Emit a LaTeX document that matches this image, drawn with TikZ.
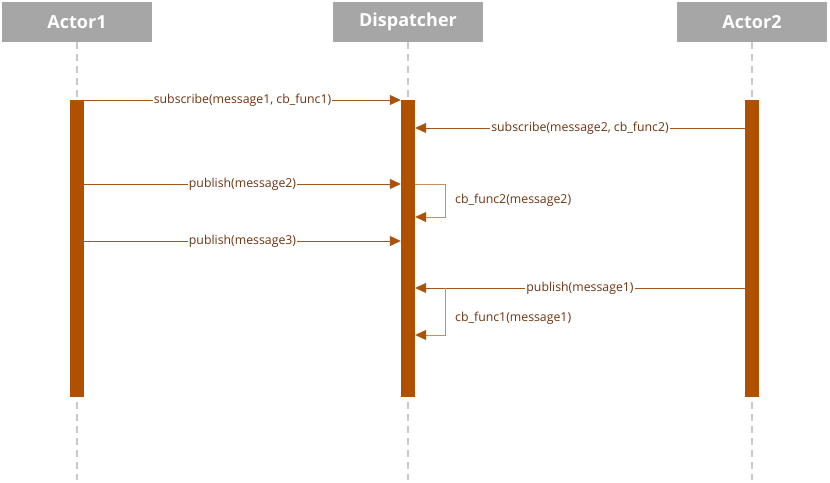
\documentclass[tikz,border=0pt]{standalone}
\usepackage{fontspec}
\setmainfont{Open Sans}
\usetikzlibrary{arrows.meta}
\definecolor{barc}{HTML}{AF5100}
\definecolor{linec}{HTML}{A5541A}
\definecolor{loopc}{HTML}{C98D5E}
\definecolor{txtc}{HTML}{6E3410}
\definecolor{headc}{HTML}{A6A6A6}
\definecolor{lifec}{HTML}{C8C8C8}
\begin{document}
\begin{tikzpicture}[x=1pt,y=-1pt,
  head/.style={fill=headc,draw=none,minimum width=150pt,minimum height=40pt,inner sep=0pt,text=white,font=\bfseries\fontsize{18}{21}\selectfont},
  bar/.style={fill=barc,draw=none,minimum width=14pt,minimum height=297pt,inner sep=0pt},
  life/.style={draw=lifec,line width=1.3pt,dash pattern=on 7pt off 5pt},
  msg/.style={draw=linec,line width=1pt,-{Triangle[length=11pt,width=10pt,fill=barc]}},
  loopline/.style={draw=loopc,line width=1pt,-{Triangle[length=11pt,width=10pt,fill=barc,color=barc]}},
  lbl/.style={fill=white,inner sep=1pt,text=txtc,font=\fontsize{12.3}{14}\selectfont},
  llbl/.style={inner sep=0pt,anchor=west,text=txtc,font=\fontsize{12.3}{14}\selectfont}]
\useasboundingbox (0,0) rectangle (830,482);
\node[head] (h1) at (77,22) {Actor1};
\node[head] (h2) at (408,22) {Dispatcher};
\node[head] (h3) at (752,22) {Actor2};
\coordinate (e1) at (77,480);
\coordinate (e2) at (408,480);
\coordinate (e3) at (752,480);
\draw[life] (h1.south) -- (e1);
\draw[life] (h2.south) -- (e2);
\draw[life] (h3.south) -- (e3);
\node[bar] (b1) at (77,248.5) {};
\node[bar] (b2) at (408,248.5) {};
\node[bar] (b3) at (752,248.5) {};
% message 1
\coordinate (m1a) at (b1.east |- 0,100);
\coordinate (m1b) at (b2.west |- 0,100);
\draw[msg] (m1a) -- (m1b) node[lbl,pos=0.5] (t1) {subscribe(message1, cb\_func1)};
% message 2
\coordinate (m2a) at (b3.west |- 0,128);
\coordinate (m2b) at (b2.east |- 0,128);
\draw[msg] (m2a) -- (m2b) node[lbl,pos=0.5] (t2) {subscribe(message2, cb\_func2)};
% message 3
\coordinate (m3a) at (b1.east |- 0,184);
\coordinate (m3b) at (b2.west |- 0,184);
\draw[msg] (m3a) -- (m3b) node[lbl,pos=0.5] (t3) {publish(message2)};
% self loop 1
\coordinate (s1a) at (b2.east |- 0,184);
\coordinate (s1b) at (445,184);
\coordinate (s1c) at (445,217);
\coordinate (s1d) at (b2.east |- 0,217);
\draw[loopline] (s1a) -- (s1b) -- (s1c) -- (s1d);
\node[llbl] (t4) at (455,200) {cb\_func2(message2)};
% message 4
\coordinate (m4a) at (b1.east |- 0,241);
\coordinate (m4b) at (b2.west |- 0,241);
\draw[msg] (m4a) -- (m4b) node[lbl,pos=0.5] (t5) {publish(message3)};
% message 5
\coordinate (m5a) at (b3.west |- 0,288);
\coordinate (m5b) at (b2.east |- 0,288);
\draw[msg] (m5a) -- (m5b) node[lbl,pos=0.5] (t6) {publish(message1)};
% self loop 2
\coordinate (s2b) at (445,288);
\coordinate (s2c) at (445,335);
\coordinate (s2d) at (b2.east |- 0,335);
\draw[loopline] (s2b) -- (s2c) -- (s2d);
\node[llbl] (t7) at (455,318) {cb\_func1(message1)};
\end{tikzpicture}
\end{document}
